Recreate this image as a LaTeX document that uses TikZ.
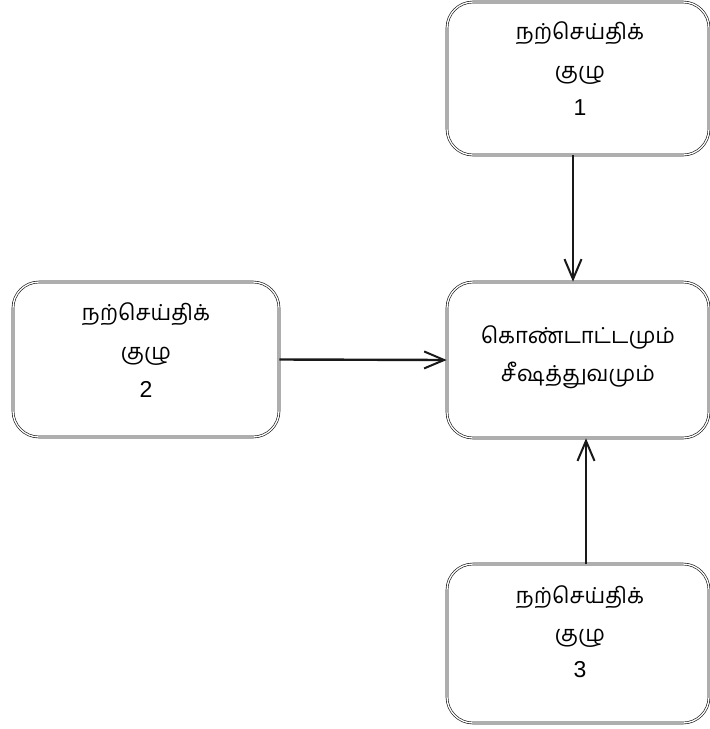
\documentclass[tikz,border=0pt]{standalone}
\usepackage{fontspec}
\newfontfamily\tamilfont[Script=Tamil]{Hind Madurai}
\newfontfamily\digitfont{Liberation Sans}
\usetikzlibrary{arrows.meta}
\begin{document}
\begin{tikzpicture}[x=1pt,y=1pt,
  box/.style={draw=black!90, double=white, double distance=1.3pt, line width=0.65pt,
    rounded corners=26pt, inner sep=0pt},
  txt/.style={anchor=base, inner sep=0pt, font=\tamilfont\fontsize{22}{26}\selectfont},
  num/.style={anchor=base, inner sep=0pt, font=\digitfont\fontsize{23}{26}\selectfont},
  conn/.style={line width=2.4pt, draw=black!90, -{Straight Barb[length=20pt,width=17pt,line width=2pt]}}]
\useasboundingbox (0,0) rectangle (710,-729);
\node[box, minimum width=262pt, minimum height=153pt] (g1) at (578,-78.5) {};
\node[box, minimum width=266pt, minimum height=155pt] (g2) at (146,-359.5) {};
\node[box, minimum width=262pt, minimum height=156pt] (c) at (578,-360) {};
\node[box, minimum width=262pt, minimum height=159pt] (g3) at (578,-643.5) {};
% box 1
\node[txt] (g1a) at (580,-39) {நற்செய்திக்};
\node[txt] (g1b) at (580,-78) {குழு};
\node[num] (g1c) at (580,-115) {1};
% box 2
\node[txt] (g2a) at (146,-320) {நற்செய்திக்};
\node[txt] (g2b) at (146,-359) {குழு};
\node[num] (g2c) at (146,-397) {2};
% centre
\node[txt] (ca) at (578,-343) {கொண்டாட்டமும்};
\node[txt] (cb) at (578,-381) {சீஷத்துவமும்};
% box 3
\node[txt] (g3a) at (580,-603) {நற்செய்திக்};
\node[txt] (g3b) at (580,-641) {குழு};
\node[num] (g3c) at (580,-677) {3};
\draw[conn] ([xshift=-5pt]g1.south) -- ([xshift=-5pt]c.north);
\draw[conn] (g2.east) -- (c.west);
\draw[conn] ([xshift=8pt]g3.north) -- ([xshift=8pt]c.south);
\end{tikzpicture}
\end{document}
